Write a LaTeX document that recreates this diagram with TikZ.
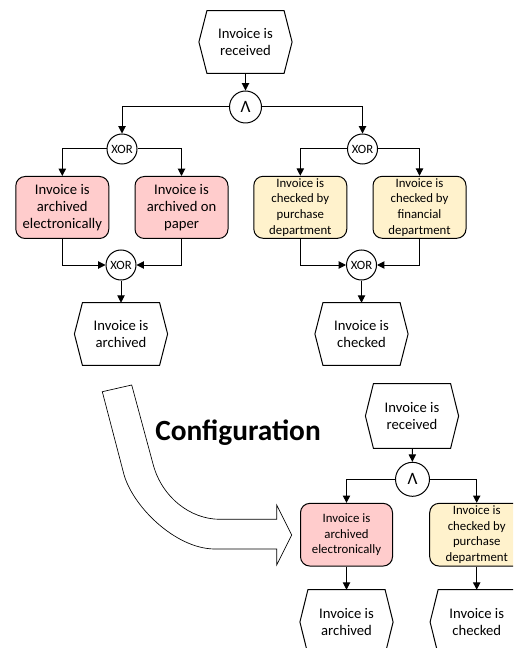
\documentclass[tikz,border=0pt]{standalone}
\usepackage{fontspec}
\setmainfont{Carlito}
\usetikzlibrary{arrows.meta}

% event: a hexagon drawn round a plain rectangular node
\newcommand\eventnode[4][]{%
  \node[evt,#1] (#2) at (#3) {#4};
  \draw[conn] ([xshift=6pt]#2.north west) -- ([xshift=-6pt]#2.north east) -- (#2.east)
    -- ([xshift=-6pt]#2.south east) -- ([xshift=6pt]#2.south west) -- (#2.west) -- cycle;}

\definecolor{funcred}{RGB}{255,204,204}
\definecolor{funcyellow}{RGB}{255,242,204}

\begin{document}
\begin{tikzpicture}[x=0.75pt,y=-0.75pt,
  conn/.style={line width=0.75pt, draw=black},
  arr/.style={conn,-{Triangle[length=5.5pt,width=5.5pt]}},
  evt/.style={minimum width=69.5pt, minimum height=46.5pt, inner sep=0pt, align=center,
    font=\fontsize{11}{13}\selectfont},
  func/.style={conn, rounded corners=7pt, minimum width=69.75pt, minimum height=46.5pt,
    inner sep=0pt, align=center},
  bigtext/.style={font=\fontsize{11}{13}\selectfont},
  smalltext/.style={font=\fontsize{9.6}{11.7}\selectfont},
  redfunc/.style={func, fill=funcred},
  yellowfunc/.style={func, fill=funcyellow, smalltext},
  gate/.style={circle, conn, fill=white, inner sep=0pt, minimum size=22.5pt,
    font=\fontsize{9.5}{11}\selectfont},
  andgate/.style={gate, minimum size=24pt, font=\fontsize{13}{15}\selectfont},
]
\useasboundingbox (0,0) rectangle (513,648);
\clip (0,0) rectangle (513,648);

% ---- process model with alternatives ----
\eventnode{recv}{245.5,42}{Invoice is\\received}
\node[andgate] (and1) at (245.5,107) {Λ};
\node[gate] (xorL) at (122,149) {XOR};
\node[gate] (xorR) at (362.5,149) {XOR};

\node[redfunc, bigtext] (elec) at (62.3,207.5) {Invoice is\\archived\\electronically};
\node[redfunc, bigtext] (paper) at (181.5,207.5) {Invoice is\\archived on\\paper};
\node[yellowfunc] (purch) at (300.3,207.3) {Invoice is\\checked by\\purchase\\department};
\node[yellowfunc] (finan) at (419.5,207.3) {Invoice is\\checked by\\financial\\department};

\node[gate] (xorL2) at (121,265) {XOR};
\node[gate] (xorR2) at (361.5,265) {XOR};

\eventnode{arch}{121,334}{Invoice is\\archived}
\eventnode{chk}{361.5,334}{Invoice is\\checked}

\draw[arr] (recv) -- (and1);
\draw[arr] (and1.west) -| (xorL.north);
\draw[arr] (and1.east) -| (xorR.north);
\draw[arr] (xorL.west) -| (elec.north);
\draw[arr] (xorL.east) -| (paper.north);
\draw[arr] (xorR.west) -| (purch.north);
\draw[arr] (xorR.east) -| (finan.north);
\draw[arr] (elec.south) |- (xorL2.west);
\draw[arr] (paper.south) |- (xorL2.east);
\draw[arr] (purch.south) |- (xorR2.west);
\draw[arr] (finan.south) |- (xorR2.east);
\draw[arr] (xorL2) -- (arch);
\draw[arr] (xorR2) -- (chk);

% ---- configuration step ----
\draw[line width=0.5pt, fill=white]
  (102.3,391.7) -- (123.3,472) .. controls (131,505) and (175,549) .. (215,549)
  -- (276.7,549) -- (276.7,565) -- (291.7,535) -- (276.7,505) -- (276.7,519.3)
  -- (220,519.3) .. controls (190,519.3) and (162,497) .. (153.3,465)
  -- (131.7,385) -- cycle;
\node[font=\bfseries\fontsize{22}{26}\selectfont] (cfg) at (238,433) {Configuration};

% ---- configured process model ----
\eventnode[minimum height=48pt]{recv2}{412,416}{Invoice is\\received}
\node[andgate, minimum size=25.5pt] (and2) at (412.5,479.3) {Λ};
\node[redfunc, smalltext, minimum width=69pt, minimum height=47pt] (elec2) at (346.5,534.7)
  {Invoice is\\archived\\electronically};
\node[yellowfunc, minimum width=70.5pt, minimum height=47pt] (purch2) at (476.7,534.7)
  {Invoice is\\checked by\\purchase\\department};
\eventnode[minimum height=48pt]{arch2}{346.5,622}{Invoice is\\archived}
\eventnode[minimum height=48pt]{chk2}{476.7,622}{Invoice is\\checked}

\draw[arr] (recv2) -- (and2);
\draw[arr] (and2.west) -| (elec2.north);
\draw[arr] (and2.east) -| (purch2.north);
\draw[arr] (elec2) -- (arch2);
\draw[arr] (purch2) -- (chk2);
\end{tikzpicture}
\end{document}
